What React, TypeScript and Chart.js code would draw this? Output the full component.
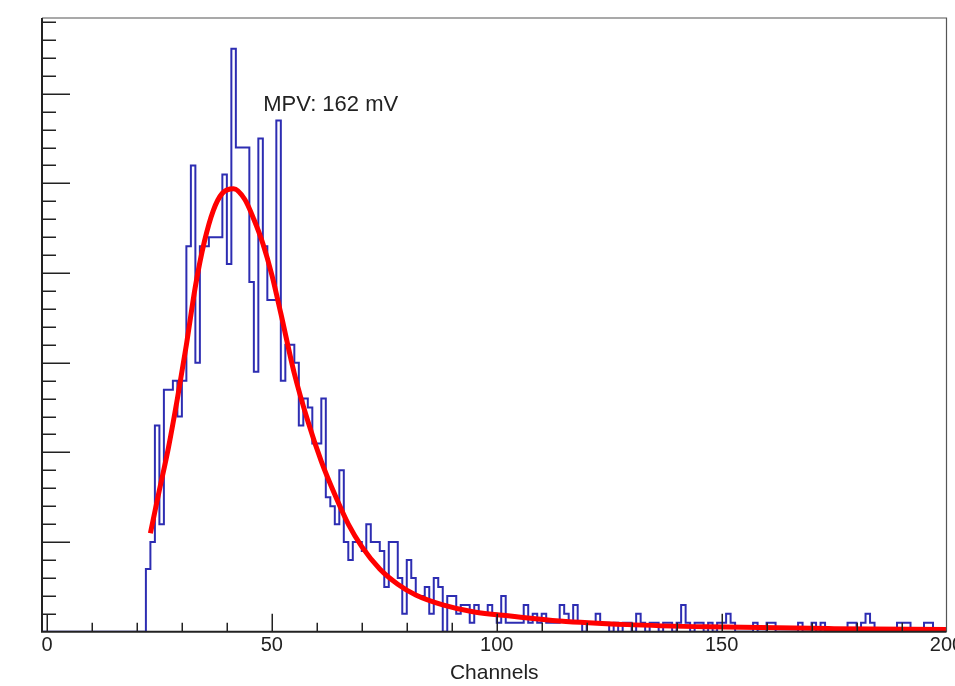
import React, { useEffect, useRef } from "react";
import { Chart, registerables } from "chart.js";

Chart.register(...registerables);

// ---- data ----
const firstChannel = 22;
// counts per 1-channel bin, channels 22 .. 199
const binCounts = [
  7, 10, 23, 12, 27, 27, 28, 24, 28, 43, // 22-31
  52, 30, 43, 43, 44, 44, 44, 51, 41, 65, // 32-41
  54, 54, 54, 39, 29, 55, 43, 37, 37, 57, // 42-51
  28, 32, 32, 30, 23, 26, 25, 21, 21, 26, // 52-61
  15, 14, 12, 18, 10, 8, 10, 10, 9, 12, // 62-71
  10, 10, 9, 5, 10, 10, 6, 2, 8, 6, // 72-81
  4, 4, 5, 2, 6, 5, 0, 4, 4, 2, // 82-91
  3, 3, 1, 3, 2, 2, 3, 2, 1, 4, // 92-101
  1, 1, 1, 1, 3, 1, 2, 1, 2, 1, // 102-111
  1, 1, 3, 2, 1, 3, 1, 0, 1, 1, // 112-121
  2, 1, 1, 0, 1, 0, 1, 1, 0, 2, // 122-131
  1, 0, 1, 1, 0, 1, 1, 0, 1, 3, // 132-141
  1, 0, 1, 1, 0, 1, 0, 1, 1, 2, // 142-151
  1, 0, 0, 0, 0, 1, 0, 0, 1, 1, // 152-161
  0, 0, 0, 0, 0, 1, 0, 0, 1, 0, // 162-171
  1, 0, 0, 0, 0, 0, 1, 1, 0, 1, // 172-181
  2, 1, 0, 0, 0, 0, 0, 1, 1, 1, // 182-191
  0, 0, 0, 1, 1, 0, 0, 0, // 192-199
];

// fitted (Landau-like) curve
const fitChannels = [23, 25, 27, 29, 31, 33, 35, 37, 39, 41.5, 44, 46, 48, 50, 52, 55, 58, 61, 64, 67, 70, 74, 78, 82, 88, 95, 103, 114, 129, 147, 175, 200];
const fitValues = [11, 15.8, 20.5, 26, 32, 38.5, 43.5, 47, 48.9, 49.4, 48.2, 46, 43.3, 39.8, 35.5, 28.8, 23.5, 19, 15.3, 12, 9.5, 7, 5.3, 4.1, 3, 2.2, 1.75, 1.2, 0.8, 0.55, 0.35, 0.25];

const xTickValues = [0, 50, 100, 150, 200];
const xMinorStep = 10;
const yMinorStep = 2;
const yMajorStep = 10;
const xTitle = "Channels";
const annotationText = "MPV: 162 mV";
const annotationAt = { x: 48.1, y: 58.1 };

const FONT = "'Liberation Sans', Arial, Helvetica, sans-serif";

export default function App() {
  const ref = useRef<HTMLCanvasElement | null>(null);

  useEffect(() => {
    if (!ref.current) return;

    const histPoints: { x: number; y: number }[] = [{ x: -1.1, y: 0 }, { x: firstChannel, y: 0 }];
    binCounts.forEach((c, i) => histPoints.push({ x: firstChannel + i, y: c }));
    histPoints.push({ x: firstChannel + binCounts.length, y: 0 });

    const fitPoints = fitChannels.map((x, i) => ({ x, y: fitValues[i] }));

    const framePlugin = {
      id: "rootFrame",
      afterDatasetsDraw(chart: any) {
        const { ctx, chartArea: a, scales } = chart;
        const xs = scales.x;
        const ys = scales.y;
        ctx.save();
        // annotation text
        ctx.fillStyle = "#222";
        ctx.font = `22px ${FONT}`;
        ctx.textBaseline = "alphabetic";
        ctx.textAlign = "left";
        ctx.fillText(annotationText, xs.getPixelForValue(annotationAt.x), ys.getPixelForValue(annotationAt.y));

        // inward tick marks
        ctx.strokeStyle = "#222";
        ctx.lineWidth = 1.5;
        ctx.beginPath();
        for (let v = 0; v <= 200; v += xMinorStep) {
          const px = Math.round(xs.getPixelForValue(v)) + 0.25;
          if (px > a.right) continue;
          const len = v % 50 === 0 ? 18 : 9;
          ctx.moveTo(px, a.bottom);
          ctx.lineTo(px, a.bottom - len);
        }
        for (let v = yMinorStep; v < ys.max; v += yMinorStep) {
          const py = Math.round(ys.getPixelForValue(v)) + 0.25;
          const len = v % yMajorStep === 0 ? 28 : 14;
          ctx.moveTo(a.left, py);
          ctx.lineTo(a.left + len, py);
        }
        ctx.stroke();

        // frame
        ctx.strokeStyle = "#555";
        ctx.lineWidth = 1.2;
        ctx.beginPath();
        ctx.moveTo(a.left, a.top);
        ctx.lineTo(a.right, a.top);
        ctx.lineTo(a.right, a.bottom);
        ctx.stroke();
        ctx.strokeStyle = "#222";
        ctx.lineWidth = 2;
        ctx.beginPath();
        ctx.moveTo(a.left, a.top);
        ctx.lineTo(a.left, a.bottom);
        ctx.lineTo(a.right, a.bottom);
        ctx.stroke();
        ctx.restore();
      },
    };

    const chart = new Chart(ref.current, {
      type: "line",
      data: {
        datasets: [
          {
            label: "fit",
            data: fitPoints,
            borderColor: "#ff0000",
            borderWidth: 5,
            pointRadius: 0,
            fill: false,
            cubicInterpolationMode: "monotone",
          },
          {
            label: "hist",
            data: histPoints,
            borderColor: "rgb(45,45,178)",
            borderWidth: 2,
            pointRadius: 0,
            fill: false,
            stepped: "before",
          },
        ],
      },
      options: {
        animation: false,
        responsive: false,
        maintainAspectRatio: false,
        layout: { padding: { left: 42, right: 985 - 946.5, top: 18, bottom: 0 } },
        plugins: { legend: { display: false }, tooltip: { enabled: false } },
        scales: {
          x: {
            type: "linear",
            min: -1.1,
            max: 200,
            afterBuildTicks: (s: any) => {
              s.ticks = xTickValues.map((v) => ({ value: v }));
            },
            grid: { display: false, drawTicks: false },
            border: { display: false },
            ticks: {
              padding: 2,
              autoSkip: false,
              maxRotation: 0,
              color: "#222",
              font: { family: FONT, size: 20 },
              callback: (v: any) => String(v),
            },
            title: {
              display: true,
              text: xTitle,
              color: "#222",
              font: { family: FONT, size: 21 },
              padding: { top: 1, bottom: 0 },
            },
          },
          y: { type: "linear", min: 0, max: 68.44, display: false },
        },
      },
      plugins: [framePlugin],
    } as any);

    return () => chart.destroy();
  }, []);

  return (
    <div style={{ position: "fixed", left: 0, top: 0, width: 955, height: 686, overflow: "hidden", background: "#fff" }}>
      <canvas ref={ref} width={985} height={686} style={{ width: 985, height: 686, display: "block" }} />
    </div>
  );
}
